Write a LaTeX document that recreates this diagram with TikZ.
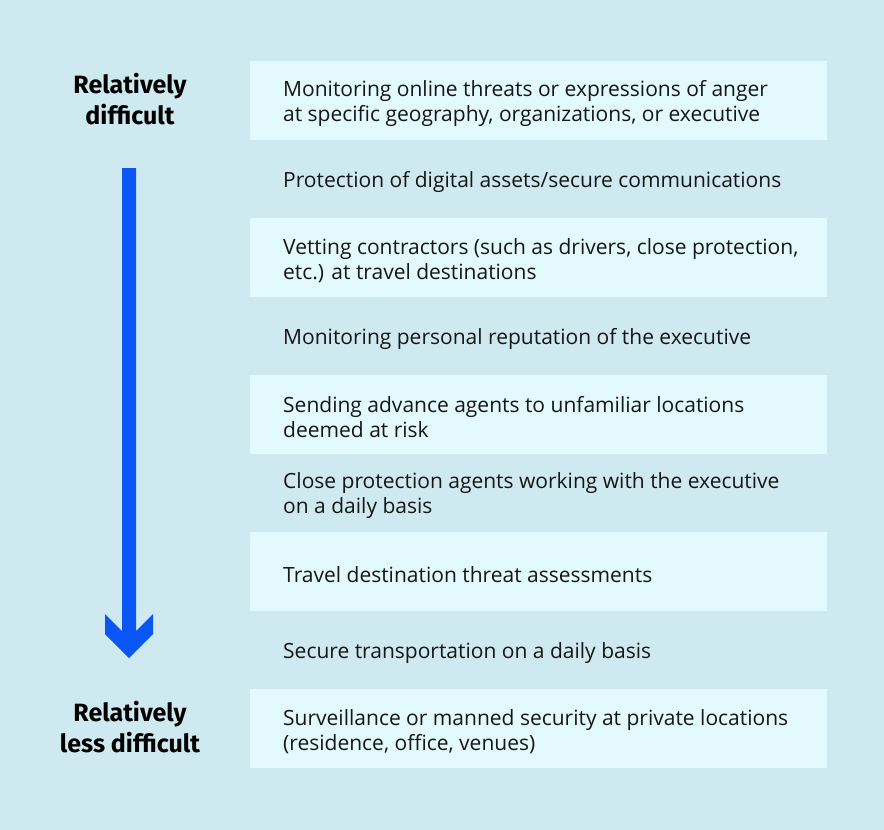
\documentclass[tikz,border=0pt]{standalone}
\usepackage{fontspec}
\setmainfont{Open Sans}
\newfontfamily\labelfont{Fira Sans}
\usepackage{tikz}
\usetikzlibrary{positioning,calc}
\definecolor{pagebg}{RGB}{206,234,240}
\definecolor{rowfill}{RGB}{226,250,253}
\definecolor{flowblue}{RGB}{10,86,245}
\definecolor{inktext}{RGB}{22,22,22}

\begin{document}
\begin{tikzpicture}[
  x=1pt, y=-1pt,
  band/.style={rectangle, inner sep=0pt, outer sep=0pt,
    minimum width=577pt, minimum height=78.5pt},
  shaded/.style={band, fill=rowfill},
  item/.style={inner sep=0pt, align=left, text=inktext, yshift=-3pt,
    font=\fontsize{21}{25}\selectfont},
  ends/.style={inner sep=0pt, align=center, text=black, yshift=1.5pt,
    font=\labelfont\bfseries\fontsize{25}{31}\selectfont}]
  \fill[pagebg] (0,0) rectangle (884,830);
  \useasboundingbox (0,0) rectangle (884,830);

  % rows, top to bottom
  \node[shaded] (b1) at (538.5,100.5) {};
  \node[band, below=0pt of b1] (b2) {};
  \node[shaded, below=0pt of b2] (b3) {};
  \node[band, below=0pt of b3] (b4) {};
  \node[shaded, below=0pt of b4] (b5) {};
  \node[band, below=0pt of b5] (b6) {};
  \node[shaded, below=0pt of b6] (b7) {};
  \node[band, below=0pt of b7] (b8) {};
  \node[shaded, below=0pt of b8] (b9) {};

  \node[item, right=33pt of b1.west] (t1) {Monitoring online threats or expressions of anger\\
    at specific geography, organizations, or executive};
  \node[item, right=33pt of b2.west] (t2) {Protection of digital assets/secure communications};
  \node[item, right=33pt of b3.west] (t3) {Vetting contractors (such as drivers, close protection,\\
    etc.) at travel destinations};
  \node[item, right=33pt of b4.west] (t4) {Monitoring personal reputation of the executive};
  \node[item, right=33pt of b5.west] (t5) {Sending advance agents to unfamiliar locations\\
    deemed at risk};
  \node[item, right=33pt of b6.west] (t6) {Close protection agents working with the executive\\
    on a daily basis};
  \node[item, right=33pt of b7.west] (t7) {Travel destination threat assessments};
  \node[item, right=33pt of b8.west] (t8) {Secure transportation on a daily basis};
  \node[item, right=33pt of b9.west] (t9) {Surveillance or manned security at private locations\\
    (residence, office, venues)};

  % scale labels and arrow
  \node[ends] (hard) at (130,0 |- b1) {Relatively\\difficult};
  \node[ends] (easy) at (130,0 |- b9) {Relatively\\less difficult};
  \coordinate (atop) at (129,168);
  \coordinate (atip) at (129,658);
  \fill[flowblue] ($(atop)+(-7,0)$) -- ($(atop)+(7,0)$) -- ($(atip)+(7,-27)$)
    -- ($(atip)+(24,-44)$) -- ($(atip)+(24,-24)$) -- (atip)
    -- ($(atip)+(-24,-24)$) -- ($(atip)+(-24,-44)$) -- ($(atip)+(-7,-27)$) -- cycle;
\end{tikzpicture}
\end{document}
